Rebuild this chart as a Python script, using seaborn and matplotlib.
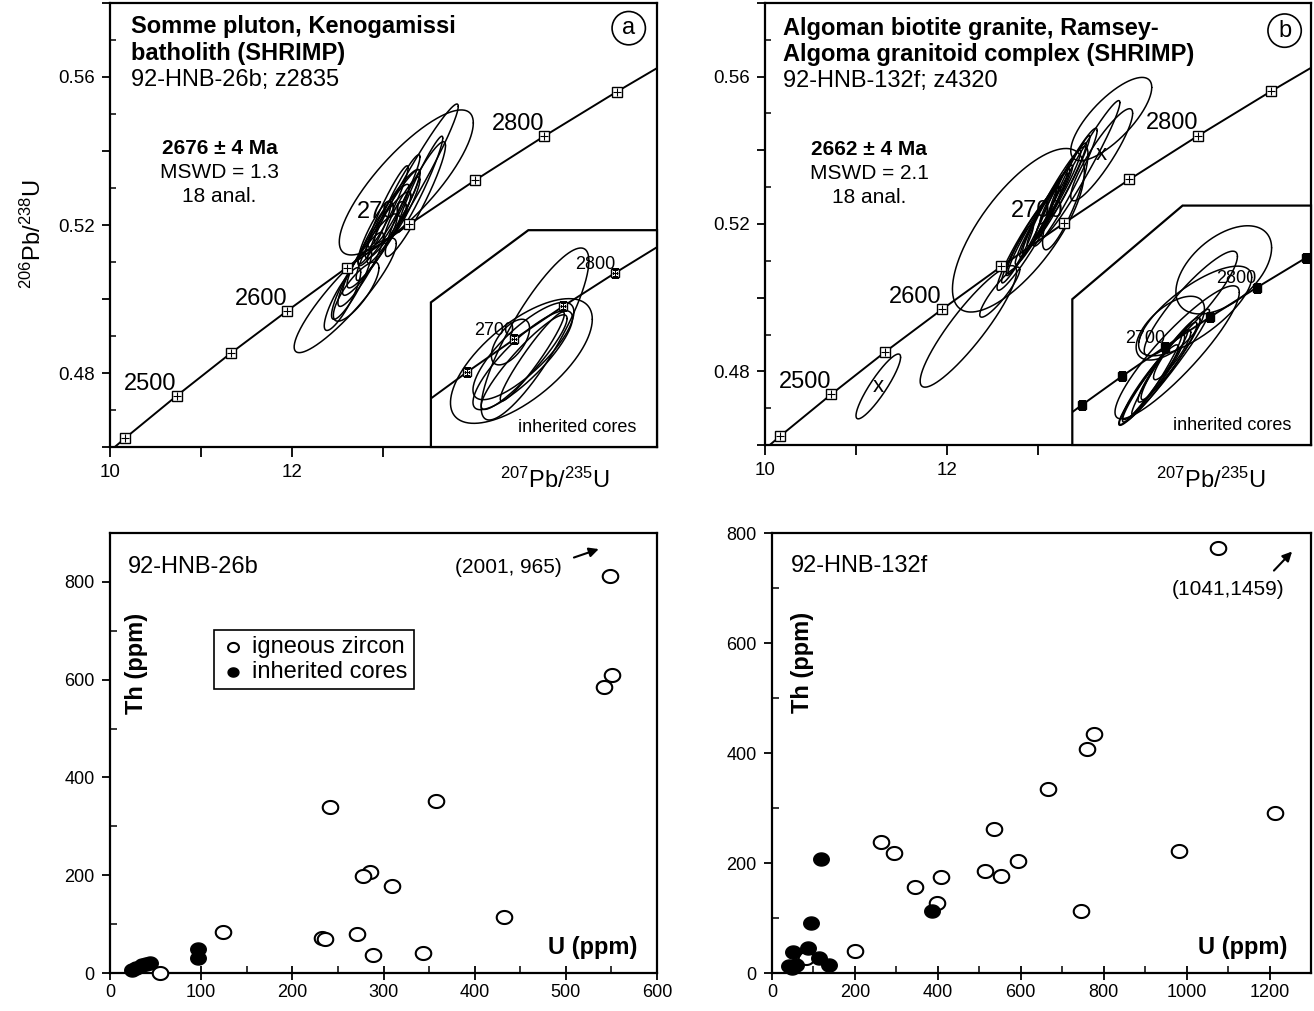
import numpy as np
import pandas as pd
import matplotlib
matplotlib.use("Agg")
import matplotlib.pyplot as plt
import seaborn as sns
from matplotlib.path import Path
from matplotlib.patches import Polygon
from matplotlib.ticker import FixedLocator, FuncFormatter, MultipleLocator

# ---------------- concordia ----------------
conc_age = [2400, 2450, 2500, 2550, 2600, 2650, 2700, 2750, 2800, 2850, 2900]
conc_x = [9.630, 10.166, 10.730, 11.322, 11.944, 12.598, 13.284, 14.005, 14.762, 15.558, 16.394]
conc_y = [0.4511, 0.4624, 0.4738, 0.4853, 0.4968, 0.5085, 0.5202, 0.5321, 0.5440, 0.5560, 0.5681]
main_marker_ages = [2450, 2500, 2550, 2600, 2650, 2700, 2750, 2800, 2850]
main_label_ages = [2500, 2600, 2700, 2800]
inset_a_marker_ages = [2650, 2700, 2750, 2800]
inset_b_marker_ages = [2600, 2650, 2700, 2750, 2800, 2850]
inset_label_ages = [2700, 2800]

# ---------------- error ellipses: centre, half-extent x/y, correlation ----------------
# (a) igneous zircon
a_cx = [13.25, 13.32, 13.35, 12.58, 13.10, 13.00, 12.85, 12.75, 12.65, 12.55, 13.05, 13.15, 12.95, 13.20, 12.70, 13.40, 12.90, 13.05]
a_cy = [0.5315, 0.5312, 0.5270, 0.5010, 0.5230, 0.5200, 0.5120, 0.5080, 0.5040, 0.5000, 0.5250, 0.5270, 0.5160, 0.5240, 0.5020, 0.5310, 0.5180, 0.5200]
a_sx = [0.735, 0.50, 0.33, 0.56, 0.30, 0.28, 0.30, 0.25, 0.22, 0.20, 0.22, 0.25, 0.35, 0.20, 0.25, 0.25, 0.18, 0.35]
a_sy = [0.0196, 0.0215, 0.0155, 0.0155, 0.0120, 0.0110, 0.0110, 0.0100, 0.0095, 0.0085, 0.0110, 0.0120, 0.0130, 0.0090, 0.0080, 0.0130, 0.0085, 0.0150]
a_rho = [0.82, 0.97, 0.93, 0.90, 0.92, 0.93, 0.92, 0.90, 0.88, 0.85, 0.95, 0.95, 0.93, 0.92, 0.80, 0.96, 0.90, 0.95]
# (a) inherited cores (inset)
ai_cx = [13.59, 13.39, 13.23, 13.41, 13.43, 13.55, 13.42]
ai_cy = [0.5221, 0.5124, 0.5192, 0.5127, 0.5120, 0.5140, 0.5160]
ai_sx = [0.79, 1.04, 0.28, 0.73, 0.63, 0.47, 0.74]
ai_sy = [0.0309, 0.0224, 0.0082, 0.0178, 0.0170, 0.0160, 0.0175]
ai_rho = [0.85, 0.67, 0.60, 0.85, 0.92, 0.95, 0.80]
# (b) igneous zircon
b_cx = [13.805, 13.47, 13.70, 12.785, 12.235, 12.58, 11.245, 12.85, 12.95, 13.05, 13.10, 13.15, 13.25, 13.20, 13.00, 12.90, 13.35, 12.80, 13.30, 13.30]
b_cy = [0.5485, 0.5350, 0.5388, 0.5183, 0.4922, 0.5015, 0.4759, 0.5150, 0.5185, 0.5220, 0.5240, 0.5260, 0.5290, 0.5280, 0.5200, 0.5160, 0.5330, 0.5130, 0.5300, 0.5270]
b_sx = [0.445, 0.43, 0.34, 0.725, 0.53, 0.22, 0.245, 0.25, 0.28, 0.30, 0.22, 0.32, 0.28, 0.18, 0.20, 0.35, 0.22, 0.15, 0.35, 0.25]
b_sy = [0.0113, 0.0185, 0.0125, 0.0222, 0.0165, 0.0068, 0.0088, 0.011, 0.012, 0.013, 0.010, 0.014, 0.013, 0.008, 0.009, 0.014, 0.011, 0.007, 0.016, 0.014]
b_rho = [0.76, 0.97, 0.90, 0.72, 0.90, 0.90, 0.90, 0.96, 0.97, 0.97, 0.96, 0.97, 0.97, 0.95, 0.96, 0.95, 0.97, 0.93, 0.96, 0.85]
b_x_marks_x = [13.70, 11.245]
b_x_marks_y = [0.5388, 0.4759]
# (b) inherited cores (inset)
bi_cx = [14.23, 13.70, 13.77, 13.48, 13.27, 13.20, 13.10, 13.35, 13.05, 13.25, 13.15, 13.40, 13.37]
bi_cy = [0.5511, 0.5376, 0.5346, 0.5180, 0.5120, 0.5100, 0.5080, 0.5150, 0.5060, 0.5120, 0.5090, 0.5170, 0.5277]
bi_sx = [0.77, 0.75, 0.91, 1.00, 0.73, 0.60, 0.55, 0.50, 0.45, 0.35, 0.40, 0.30, 0.55]
bi_sy = [0.0177, 0.0210, 0.0180, 0.0267, 0.0233, 0.0200, 0.0190, 0.0170, 0.0150, 0.0130, 0.0160, 0.0100, 0.0128]
bi_rho = [0.50, 0.90, 0.75, 0.90, 0.97, 0.96, 0.97, 0.95, 0.94, 0.93, 0.97, 0.90, 0.60]

# ---------------- Th-U data ----------------
c_ig_U = [548, 551, 542, 241, 358, 285, 278, 309, 432, 124, 233, 236, 271, 288, 343, 55]
c_ig_Th = [812, 609, 586, 339, 352, 207, 199, 178, 114, 84, 71, 70, 80, 37, 41, 0]
c_in_U = [24, 28, 35, 40, 44, 96, 97]
c_in_Th = [6, 10, 16, 19, 21, 50, 30]
d_ig_U = [1076, 1214, 981, 777, 760, 665, 535, 594, 514, 552, 263, 295, 408, 344, 399, 746, 199, 83]
d_ig_Th = [773, 291, 222, 435, 408, 335, 262, 204, 186, 177, 239, 218, 174, 156, 128, 112, 40, 27]
d_in_U = [119, 95, 386, 51, 87, 113, 137, 49, 58, 42]
d_in_Th = [207, 91, 112, 39, 45, 28, 15, 9, 14, 12]

# ---------------- style ----------------
sns.set_style("ticks", {"axes.edgecolor": "black", "xtick.color": "black", "ytick.color": "black",
                        "text.color": "black", "axes.labelcolor": "black"})
plt.rcParams["font.family"] = ["Liberation Sans", "DejaVu Sans"]
plt.rcParams["mathtext.fontset"] = "custom"
plt.rcParams["mathtext.rm"] = "Liberation Sans"
plt.rcParams["mathtext.it"] = "Liberation Sans:italic"
plt.rcParams["mathtext.bf"] = "Liberation Sans:bold"

W, H = 1314, 1011
fig = plt.figure(figsize=(W / 100, H / 100), dpi=100)


def box(l, t, r, b):
    return [l / W, 1 - b / H, (r - l) / W, (b - t) / H]


ax_a = fig.add_axes(box(110, 3, 657, 447))
ax_b = fig.add_axes(box(765, 3, 1311, 445))
ax_c = fig.add_axes(box(110, 533, 657, 973))
ax_d = fig.add_axes(box(772, 533, 1311, 973))

conc = pd.DataFrame({"age": conc_age, "x": conc_x, "y": conc_y})
theta = np.linspace(0, 2 * np.pi, 300)


def draw_ellipses(ax, cx, cy, sx, sy, rho, clip=None, lw=1.1):
    for x0, y0, a, b, r in zip(cx, cy, sx, sy, rho):
        ex = x0 + a * np.cos(theta)
        ey = y0 + b * (r * np.cos(theta) + np.sqrt(1 - r * r) * np.sin(theta))
        ln, = ax.plot(ex, ey, color="black", lw=lw, zorder=3)
        if clip is not None:
            ln.set_clip_path(clip)


def draw_concordia(ax, marker_ages, label_ages, ms, fs, dy, style="cross", clip=None):
    sns.lineplot(data=conc, x="x", y="y", sort=False, estimator=None, color="black", lw=1.4, ax=ax)
    ln = ax.lines[-1]
    ln.set_zorder(2)
    mk = conc[conc["age"].isin(marker_ages)]
    arts = []
    if style == "cross":
        arts += ax.plot(mk["x"], mk["y"], "s", ms=ms, mfc="white", mec="black", mew=1.0, zorder=4)
        arts += ax.plot(mk["x"], mk["y"], "+", ms=ms * 0.75, mec="black", mew=0.8, zorder=5)
    else:
        arts += ax.plot(mk["x"], mk["y"], "s", ms=ms, mfc="black", mec="black", zorder=4)
    texts = []
    for age in label_ages:
        r = conc[conc["age"] == age].iloc[0]
        t = ax.annotate(str(age), (r["x"], r["y"]), xytext=(0, dy), textcoords="offset points",
                        ha="right", va="baseline", fontsize=fs, zorder=2)
        texts.append(t)
    if clip is not None:
        for a in [ln] + arts + texts:
            a.set_clip_path(clip)


def style_top(ax):
    ax.set_xlim(10, 16)
    ax.set_ylim(0.46, 0.58)
    ax.xaxis.set_major_locator(FixedLocator([10, 11, 12, 13]))
    ax.xaxis.set_major_formatter(FuncFormatter(lambda v, p: {10: "10", 12: "12"}.get(int(round(v)), "")))
    ax.yaxis.set_major_locator(FixedLocator([0.46, 0.48, 0.50, 0.52, 0.54, 0.56, 0.58]))
    ax.yaxis.set_minor_locator(MultipleLocator(0.01))
    ax.yaxis.set_major_formatter(FuncFormatter(
        lambda v, p: f"{v:.2f}" if round(v, 2) in (0.48, 0.52, 0.56) else ""))
    ax.tick_params(axis="x", which="major", direction="out", length=7, width=1.3, labelsize=13.5, pad=5)
    ax.tick_params(axis="y", which="major", direction="out", length=6, width=1.3, labelsize=13.5, pad=5)
    ax.tick_params(axis="y", which="minor", direction="in", length=4, width=1.1)
    ax.set_xlabel("")
    ax.set_ylabel("")
    for s in ax.spines.values():
        s.set_linewidth(1.6)
        s.set_color("black")


def make_inset(ax, bounds, xlim, ylim, corner_y, diag_x):
    ins = ax.inset_axes(bounds, transform=ax.transData)
    ins.set_xlim(*xlim)
    ins.set_ylim(*ylim)
    ins.axis("off")
    poly = Polygon([(0, 0), (0, corner_y), (diag_x, 1), (1, 1), (1, 0)], closed=True,
                   transform=ins.transAxes, fc="white", ec="black", lw=1.6, zorder=0, clip_on=False)
    ins.add_patch(poly)
    return ins, poly


# ---------------- panel (a) concordia ----------------
draw_concordia(ax_a, main_marker_ages, main_label_ages, ms=7, fs=17, dy=4.5)
draw_ellipses(ax_a, a_cx, a_cy, a_sx, a_sy, a_rho)
style_top(ax_a)
ins_a, poly_a = make_inset(ax_a, [13.52, 0.46, 2.48, 0.0586], (12.063, 15.379), (0.4815, 0.5594), 0.667, 0.431)
draw_concordia(ins_a, inset_a_marker_ages, inset_label_ages, ms=6, fs=13, dy=3, clip=poly_a)
draw_ellipses(ins_a, ai_cx, ai_cy, ai_sx, ai_sy, ai_rho, clip=poly_a)
ax_a.text(15.12, 0.4652, "inherited cores", fontsize=13, ha="center", va="center", zorder=10)

ax_a.text(10.235, 0.5718, "Somme pluton, Kenogamissi", fontsize=17, fontweight="bold", va="baseline")
ax_a.text(10.235, 0.5647, "batholith (SHRIMP)", fontsize=17, fontweight="bold", va="baseline")
ax_a.text(10.235, 0.5576, "92-HNB-26b; z2835", fontsize=17, va="baseline")
ax_a.text(11.20, 0.5391, "2676 ± 4 Ma", fontsize=15, fontweight="bold", ha="center", va="baseline")
ax_a.text(11.20, 0.5327, "MSWD = 1.3", fontsize=15, ha="center", va="baseline")
ax_a.text(11.20, 0.5262, "18 anal.", fontsize=15, ha="center", va="baseline")
ax_a.text(15.69, 0.5732, "a", fontsize=17, ha="center", va="center",
          bbox=dict(boxstyle="circle,pad=0.24", fc="white", ec="black", lw=1.2))
ax_a.text(-0.14, 0.5176, r"$\mathregular{^{206}Pb/^{238}U}$", transform=ax_a.get_yaxis_transform(),
          rotation=90, ha="center", va="center", fontsize=17)
ax_a.text(14.88, -0.074, r"$\mathregular{^{207}Pb/^{235}U}$", transform=ax_a.get_xaxis_transform(),
          ha="center", va="center", fontsize=17)

# ---------------- panel (b) concordia ----------------
draw_concordia(ax_b, main_marker_ages, main_label_ages, ms=7, fs=17, dy=4.5)
draw_ellipses(ax_b, b_cx, b_cy, b_sx, b_sy, b_rho)
for xx, yy in zip(b_x_marks_x, b_x_marks_y):
    ax_b.text(xx, yy, "x", fontsize=16, ha="center", va="center", zorder=6)
style_top(ax_b)
ins_b, poly_b = make_inset(ax_b, [13.377, 0.46, 2.623, 0.065], (11.793, 15.634), (0.4808, 0.5769), 0.609, 0.462)
draw_concordia(ins_b, inset_b_marker_ages, inset_label_ages, ms=6, fs=13, dy=3, style="filled", clip=poly_b)
draw_ellipses(ins_b, bi_cx, bi_cy, bi_sx, bi_sy, bi_rho, clip=poly_b)
ax_b.text(15.13, 0.4654, "inherited cores", fontsize=13, ha="center", va="center", zorder=10)

ax_b.text(10.196, 0.5713, "Algoman biotite granite, Ramsey-", fontsize=17, fontweight="bold", va="baseline")
ax_b.text(10.196, 0.5642, "Algoma granitoid complex (SHRIMP)", fontsize=17, fontweight="bold", va="baseline")
ax_b.text(10.196, 0.5571, "92-HNB-132f; z4320", fontsize=17, va="baseline")
ax_b.text(11.145, 0.5386, "2662 ± 4 Ma", fontsize=15, fontweight="bold", ha="center", va="baseline")
ax_b.text(11.145, 0.5322, "MSWD = 2.1", fontsize=15, ha="center", va="baseline")
ax_b.text(11.145, 0.5257, "18 anal.", fontsize=15, ha="center", va="baseline")
ax_b.text(15.71, 0.5725, "b", fontsize=17, ha="center", va="center",
          bbox=dict(boxstyle="circle,pad=0.24", fc="white", ec="black", lw=1.2))
ax_b.text(14.90, -0.079, r"$\mathregular{^{207}Pb/^{235}U}$", transform=ax_b.get_xaxis_transform(),
          ha="center", va="center", fontsize=17)

# ---------------- Th vs U panels ----------------
tt = np.linspace(0, 2 * np.pi, 64)
ell_marker = Path(np.column_stack([np.cos(tt), 0.84 * np.sin(tt)]), closed=True)


def style_bottom(ax, xmax, ymax, xmaj, xmin):
    ax.set_xlim(0, xmax)
    ax.set_ylim(0, ymax)
    ax.xaxis.set_major_locator(MultipleLocator(xmaj))
    ax.xaxis.set_minor_locator(MultipleLocator(xmin))
    ax.yaxis.set_major_locator(FixedLocator([0, 200, 400, 600, 800]))
    ax.yaxis.set_minor_locator(MultipleLocator(100))
    ax.tick_params(axis="x", which="major", direction="inout", length=10, width=1.3, labelsize=13, pad=3)
    ax.tick_params(axis="x", which="minor", direction="in", length=5, width=1.1)
    ax.tick_params(axis="y", which="major", direction="out", length=6, width=1.3, labelsize=13, pad=5)
    ax.tick_params(axis="y", which="minor", direction="in", length=5, width=1.1)
    ax.set_xlabel("")
    ax.set_ylabel("")
    for s in ax.spines.values():
        s.set_linewidth(1.6)
        s.set_color("black")


for ax, igU, igTh, inU, inTh in [(ax_c, c_ig_U, c_ig_Th, c_in_U, c_in_Th),
                                  (ax_d, d_ig_U, d_ig_Th, d_in_U, d_in_Th)]:
    sns.scatterplot(x=igU, y=igTh, marker=ell_marker, s=125, color="white", edgecolor="black",
                    linewidth=1.5, ax=ax, label="igneous zircon", clip_on=False, zorder=3)
    sns.scatterplot(x=inU, y=inTh, marker=ell_marker, s=125, color="black", edgecolor="black",
                    linewidth=1.0, ax=ax, label="inherited cores", clip_on=False, zorder=4)

style_bottom(ax_c, 600, 900, 100, 50)
style_bottom(ax_d, 1300, 800, 200, 100)

leg = ax_c.legend(loc="upper left", bbox_to_anchor=(0.191, 0.78), frameon=True, fancybox=False,
                  edgecolor="black", framealpha=1, fontsize=17, borderpad=0.25, labelspacing=0.15,
                  handletextpad=0.25, handlelength=1.1, borderaxespad=0, markerscale=0.7)
leg.get_frame().set_linewidth(1.2)
ld = ax_d.get_legend()
if ld is not None:
    ld.remove()

ax_c.text(19.6, 819, "92-HNB-26b", fontsize=17, va="baseline")
ax_c.text(496, 819, "(2001, 965)", fontsize=15, ha="right", va="baseline")
ax_c.annotate("", xy=(539, 869), xytext=(506, 848),
              arrowprops=dict(arrowstyle="-|>", color="black", lw=1.5, mutation_scale=14))
ax_c.text(29, 633, "Th (ppm)", rotation=90, fontsize=17, fontweight="bold", ha="center", va="center")
ax_c.text(578, 52, "U (ppm)", fontsize=17, fontweight="bold", ha="right", va="center")

ax_d.text(45, 730, "92-HNB-132f", fontsize=17, va="baseline")
ax_d.text(1100, 698, "(1041,1459)", fontsize=15, ha="center", va="center")
ax_d.annotate("", xy=(1259, 770), xytext=(1206, 728),
              arrowprops=dict(arrowstyle="-|>", color="black", lw=1.5, mutation_scale=14))
ax_d.text(74, 565, "Th (ppm)", rotation=90, fontsize=17, fontweight="bold", ha="center", va="center")
ax_d.text(1244, 47, "U (ppm)", fontsize=17, fontweight="bold", ha="right", va="center")

fig.savefig("out.png", dpi=100)
